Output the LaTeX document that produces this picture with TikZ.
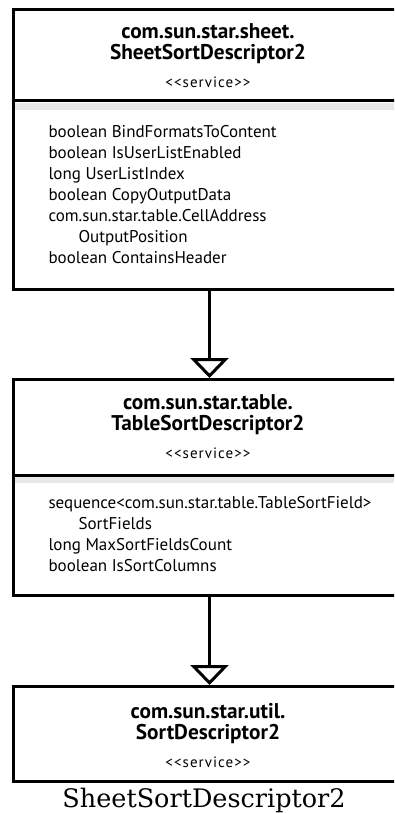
\documentclass[tikz,border=0pt]{standalone}
\usepackage{fontspec}
\setmainfont{PT Sans}
\newfontfamily\captionfont{DejaVu Serif}
\usetikzlibrary{arrows.meta}

\begin{document}
\begin{tikzpicture}[x=1pt, y=-1pt, line width=3pt,
    classbox/.style={draw, rectangle, minimum width=392pt, anchor=north west, inner sep=0pt},
    classtitle/.style={align=center, font=\bfseries\fontsize{21.3}{21}\selectfont, inner sep=0pt},
    stereo/.style={font=\fontsize{15}{16}\selectfont\addfontfeature{LetterSpace=7}, inner sep=0pt},
    attrs/.style={align=left, anchor=north west, font=\fontsize{17}{21}\selectfont, inner sep=0pt},
    band/.style={fill=black!9, draw=none},
    inherit/.style={-{Triangle[open, length=20pt, width=38pt]}}]
    \useasboundingbox (0,0) rectangle (394,813);
    \clip (0,0) rectangle (394,813);
    % compartment shading
    \fill[band] (13.5,103) rectangle (394,110);
    \fill[band] (13.5,477) rectangle (394,483);
    % class boxes
    \node[classbox, minimum height=280pt] (sheet) at (12,8) {};
    \node[classbox, minimum height=216pt] (table) at (12,378) {};
    \node[classbox, minimum height=95pt] (util) at (12,685) {};
    \draw ([yshift=-93pt]sheet.north west) -- ([yshift=-93pt]sheet.north east);
    \draw ([yshift=-97pt]table.north west) -- ([yshift=-97pt]table.north east);
    % sheet
    \node[classtitle] (sheettitle) at (208,44) {com.sun.star.sheet.\\SheetSortDescriptor2};
    \node[stereo] (sheetstereo) at (208,82) {<{}<service>{}>};
    \node[attrs] (sheetattrs) at (47,124) {boolean BindFormatsToContent\\
        boolean IsUserListEnabled\\
        long UserListIndex\\
        boolean CopyOutputData\\
        com.sun.star.table.CellAddress\\
        \hspace*{30pt}OutputPosition\\
        boolean ContainsHeader};
    % table
    \node[classtitle] (tabletitle) at (208,415) {com.sun.star.table.\\TableSortDescriptor2};
    \node[stereo] (tablestereo) at (208,453) {<{}<service>{}>};
    \node[attrs] (tableattrs) at (47,495) {sequence<com.sun.star.table.TableSortField>\\
        \hspace*{30pt}SortFields\\
        long MaxSortFieldsCount\\
        boolean IsSortColumns};
    % util
    \node[classtitle] (utiltitle) at (208,724) {com.sun.star.util.\\SortDescriptor2};
    \node[stereo] (utilstereo) at (208,762) {<{}<service>{}>};
    % generalisations
    \draw[inherit] (sheet.south) -- (table.north);
    \draw[inherit] (table.south) -- (util.north);
    \node[font=\captionfont\fontsize{25.5}{28}\selectfont, anchor=base, inner sep=0pt] (caption) at (204,807) {SheetSortDescriptor2};
\end{tikzpicture}
\end{document}
